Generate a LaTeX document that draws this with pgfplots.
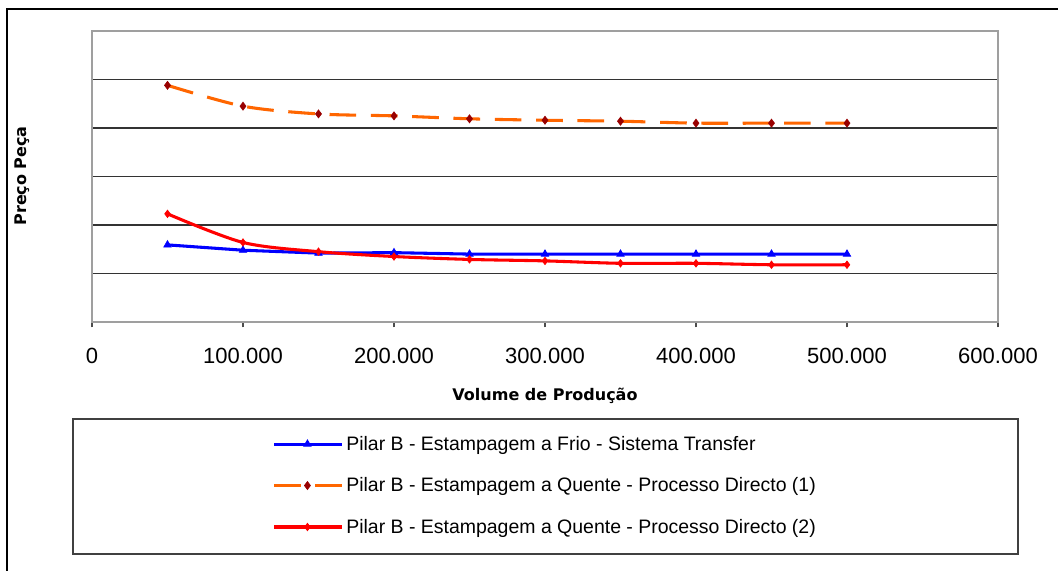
\documentclass[border=0pt]{standalone}
\usepackage{pgfplots}
\pgfplotsset{compat=1.18}
\usepackage{fontspec}
\setmainfont{Liberation Sans}
\newfontfamily\labelfont{DejaVu Sans}

\definecolor{serieblue}{RGB}{0,0,255}
\definecolor{serieorange}{RGB}{255,102,0}
\definecolor{markdark}{RGB}{153,0,0}
\definecolor{seriered}{RGB}{255,0,0}

\begin{document}
\begin{tikzpicture}
\useasboundingbox (0,0) rectangle (793.5pt,428.25pt);
\clip (0,0) rectangle (793.5pt,428.25pt);
\fill[white] (0,0) rectangle (793.5pt,428.25pt);

% 1 px = 0.75pt, y grows downwards like in the screenshot
\begin{scope}[x=0.75pt,y=-0.75pt,yshift=428.25pt]
  % outer chart frame (right and bottom edges lie outside the picture)
  \draw[black, line width=1.5pt] (7,600) -- (7,9) -- (1100,9);
  % legend box
  \draw[black!75, line width=1.3pt] (73,419) rectangle (1018,554);
\end{scope}

\begin{axis}[
    at={(69pt,186.75pt)}, anchor=south west,
    scale only axis,
    width=679.5pt, height=218.25pt,
    xmin=0, xmax=600000,
    ymin=0, ymax=6,
    axis line style={gray!75, line width=1pt},
    scaled x ticks=false,
    xtick={0,100000,200000,300000,400000,500000,600000},
    xticklabels={0,100.000,200.000,300.000,400.000,500.000,600.000},
    xtick pos=left,
    tick align=outside,
    major tick length=4pt,
    xtick style={black!70, line width=0.8pt},
    xticklabel style={font=\fontsize{16.5}{18}\selectfont, anchor=base, yshift=-26.8pt},
    ytick={1,2,3,4,5},
    yticklabels={},
    ytick style={draw=none},
    ymajorgrids,
    grid style={black!80, line width=1pt},
    xlabel={Volume de Produção},
    ylabel={Preço Peça},
    xlabel style={font=\labelfont\bfseries\fontsize{12}{14}\selectfont, at={(axis description cs:0.5,-0.255)}, anchor=center},
    ylabel style={font=\labelfont\bfseries\fontsize{12}{14}\selectfont, at={(axis description cs:-0.0773,0.502)}, anchor=center, rotate=0},
    legend style={draw=none, fill=none, at={(axis description cs:0.5006,-0.562)}, anchor=center,
        font=\fontsize{14.6}{17}\selectfont, row sep=15pt},
    legend cell align=left,
    legend image code/.code={
        \draw[mark repeat=2,mark phase=2] plot coordinates {(0pt,0pt) (25pt,0pt) (51pt,0pt)};
    },
]

\addplot[serieblue, line width=2.3pt, mark=triangle*, mark size=3.2pt,
    mark options={solid, fill=serieblue, draw=serieblue, line width=0.5pt}]
coordinates {
    (50000,1.59) (100000,1.48) (150000,1.42) (200000,1.43) (250000,1.40)
    (300000,1.40) (350000,1.40) (400000,1.40) (450000,1.40) (500000,1.40)
};
\addlegendentry{Pilar B - Estampagem a Frio - Sistema Transfer}

\addplot[serieorange, line width=2.3pt, smooth, dash pattern=on 20pt off 11pt,
    mark=diamond*, mark size=3pt,
    mark options={solid, fill=markdark, draw=markdark, line width=0.5pt}]
coordinates {
    (50000,4.88) (100000,4.45) (150000,4.29) (200000,4.25) (250000,4.19)
    (300000,4.16) (350000,4.14) (400000,4.10) (450000,4.10) (500000,4.10)
};
\addlegendentry{Pilar B - Estampagem a Quente - Processo Directo (1)}

\addplot[seriered, line width=2.3pt, smooth, mark=diamond*, mark size=2.8pt,
    mark options={solid, fill=seriered, draw=seriered, line width=0.5pt}]
coordinates {
    (50000,2.23) (100000,1.64) (150000,1.45) (200000,1.35) (250000,1.29)
    (300000,1.26) (350000,1.21) (400000,1.21) (450000,1.18) (500000,1.18)
};
\addlegendentry{Pilar B - Estampagem a Quente - Processo Directo (2)}

\end{axis}
\end{tikzpicture}
\end{document}
